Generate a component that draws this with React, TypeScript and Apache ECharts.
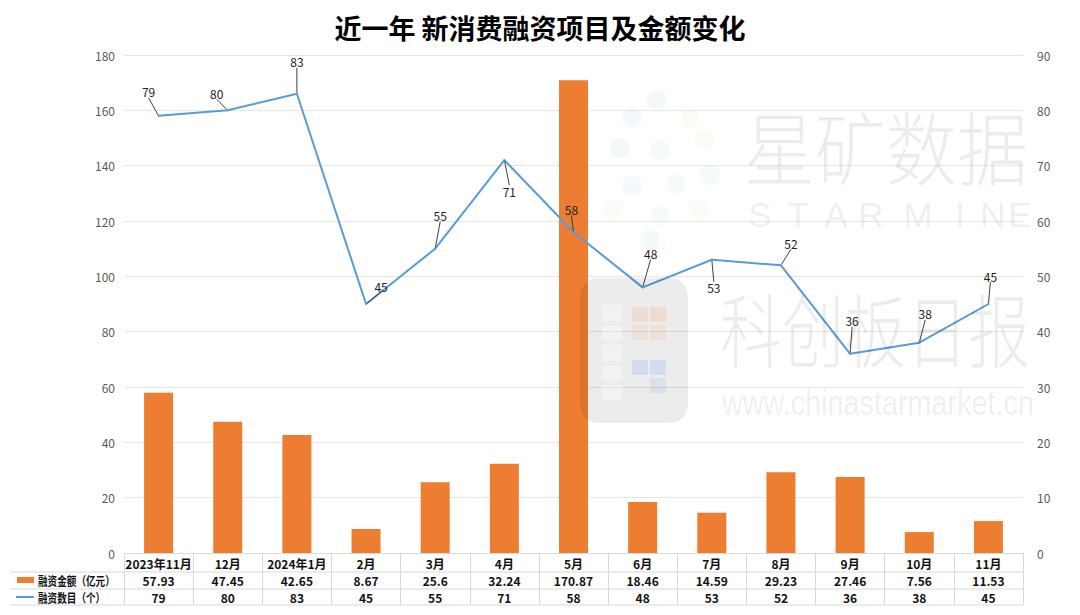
import React, { useEffect, useRef } from "react";
import * as echarts from "echarts";

const categories = ["2023年11月", "12月", "2024年1月", "2月", "3月", "4月", "5月", "6月", "7月", "8月", "9月", "10月", "11月"];
const amounts = [57.93, 47.45, 42.65, 8.67, 25.6, 32.24, 170.87, 18.46, 14.59, 29.23, 27.46, 7.56, 11.53];
const counts = [79, 80, 83, 45, 55, 71, 58, 48, 53, 52, 36, 38, 45];
const amountName = "融资金额（亿元）";
const countName = "融资数目（个）";
const titleText = "近一年 新消费融资项目及金额变化";

// label displacement (layout only)
const labelOffsets: [number, number][] = [
  [-10, -24], [-11, -17], [0, -32], [15, -18], [5, -33], [5, 31], [-2, -23],
  [8, -34], [2, 28], [10, -22], [2, -33], [6, -29], [2, -28],
];

const FONT = "'Noto Sans CJK SC', 'Noto Sans', sans-serif";

export default function App() {
  const ref = useRef<HTMLDivElement>(null);
  useEffect(() => {
    if (!ref.current) return;
    const chart = echarts.init(ref.current, undefined, { renderer: "svg" });
    const wm = "rgba(0,0,0,0.075)";
    const tableLine = "#d9d9d9";
    const dotColors = ["rgba(120,190,220,0.08)", "rgba(240,200,120,0.08)", "rgba(120,200,210,0.08)"];
    const dots: any[] = [];
    const dotPos: [number, number, number][] = [
      [657, 100, 0], [632, 118, 0], [690, 118, 1], [620, 148, 0], [660, 150, 2], [705, 140, 1],
      [632, 185, 0], [676, 183, 2], [710, 175, 2], [612, 210, 1], [660, 215, 2], [700, 210, 1], [650, 240, 0],
    ];
    dotPos.forEach(([x, y, c]) => dots.push({ type: "circle", shape: { cx: x, cy: y, r: 10 }, style: { fill: dotColors[c] }, silent: true, z: 10 }));
    const starLetters: [string, number][] = [["S", 760], ["T", 798], ["A", 836], ["R", 871], ["M", 918], ["I", 960], ["N", 993], ["E", 1020]];
    const star = starLetters.map(([t, x]) => ({
      type: "text", x, y: 214, silent: true, z: 10,
      style: { text: t, font: `35px 'Liberation Sans', sans-serif`, fill: wm, align: "center", verticalAlign: "middle" },
    }));
    const iconRects: any[] = [];
    [305, 325, 345, 365, 385].forEach((y) => iconRects.push({ type: "rect", shape: { x: 602, y, width: 20, height: 16 }, style: { fill: "rgba(255,255,255,0.35)" }, silent: true, z: 11 }));
    [[632, 307, "rgba(240,170,120,0.25)"], [650, 307, "rgba(240,170,120,0.25)"], [632, 325, "rgba(240,170,120,0.18)"], [650, 325, "rgba(240,170,120,0.18)"],
     [632, 360, "rgba(130,180,240,0.25)"], [650, 360, "rgba(130,180,240,0.25)"], [650, 378, "rgba(130,180,240,0.18)"]].forEach(([x, y, c]) =>
      iconRects.push({ type: "rect", shape: { x, y, width: 16, height: 15 }, style: { fill: c }, silent: true, z: 11 }));

    chart.setOption({
      animation: false,
      textStyle: { fontFamily: FONT },
      title: {
        text: titleText,
        left: "center",
        top: 9,
        textStyle: { fontSize: 27, fontWeight: "bold", color: "#000", fontFamily: FONT },
      },
      grid: { left: 124, right: 57, top: 55, bottom: 62 },
      xAxis: {
        type: "category",
        data: categories,
        axisLine: { show: true, lineStyle: { color: tableLine } },
        axisTick: { show: true, length: 52, interval: 0, lineStyle: { color: tableLine } },
        axisLabel: {
          interval: 0,
          margin: 2,
          formatter: (v: string, i: number) => `{c|${v}}\n{c|${amounts[i]}}\n{c|${counts[i]}}`,
          rich: { c: { fontSize: 12, fontWeight: "bold", color: "#111", lineHeight: 17, fontFamily: FONT } },
        },
      },
      yAxis: [
        {
          type: "value", min: 0, max: 180, interval: 20,
          axisLabel: { color: "#595959", fontSize: 12, margin: 9 },
          splitLine: { lineStyle: { color: "#e6e6e6" } },
          axisLine: { show: false }, axisTick: { show: false },
        },
        {
          type: "value", min: 0, max: 90, interval: 10,
          axisLabel: { color: "#595959", fontSize: 12, margin: 14 },
          splitLine: { show: false },
          axisLine: { show: false }, axisTick: { show: false },
        },
      ],
      series: [
        {
          name: amountName,
          type: "bar",
          data: amounts,
          barWidth: 29,
          itemStyle: { color: "#ed7d31" },
          yAxisIndex: 0,
        },
        {
          name: countName,
          type: "line",
          data: counts,
          yAxisIndex: 1,
          symbol: "circle",
          symbolSize: 2,
          showSymbol: true,
          itemStyle: { color: "#5b9bd5" },
          lineStyle: { color: "#5b9bd5", width: 2 },
          label: { show: true, position: "inside", color: "#222", fontSize: 12 },
          labelLayout: (p: any) => ({ dx: labelOffsets[p.dataIndex][0], dy: labelOffsets[p.dataIndex][1] }),
          labelLine: { show: true, lineStyle: { color: "#404040", width: 1 }, length2: 0, minTurnAngle: 0 },
          z: 5,
        },
      ],
      graphic: [
        // table horizontal lines
        { type: "line", shape: { x1: 10, y1: 572, x2: 1023, y2: 572 }, style: { stroke: tableLine, lineWidth: 1 }, silent: true },
        { type: "line", shape: { x1: 10, y1: 589, x2: 1023, y2: 589 }, style: { stroke: tableLine, lineWidth: 1 }, silent: true },
        { type: "line", shape: { x1: 10, y1: 605, x2: 1023, y2: 605 }, style: { stroke: tableLine, lineWidth: 1 }, silent: true },
        // legend keys
        { type: "rect", shape: { x: 17, y: 577, width: 17, height: 6 }, style: { fill: "#ed7d31" }, silent: true },
        { type: "text", x: 38, y: 580.5, scaleX: 0.8, style: { text: amountName, font: `bold 12px ${FONT}`, fill: "#111", verticalAlign: "middle" }, silent: true },
        { type: "line", shape: { x1: 16, y1: 597, x2: 34, y2: 597 }, style: { stroke: "#5b9bd5", lineWidth: 2 }, silent: true },
        { type: "text", x: 38, y: 597, scaleX: 0.8, style: { text: countName, font: `bold 12px ${FONT}`, fill: "#111", verticalAlign: "middle" }, silent: true },
        // watermark
        ...dots,
        { type: "rect", shape: { x: 580, y: 278, width: 108, height: 145, r: 18 }, style: { fill: "rgba(0,0,0,0.075)" }, silent: true, z: 10 },
        ...iconRects,
        { type: "text", x: 744, y: 145, scaleY: 1.12, style: { text: "星矿数据", font: `300 71px ${FONT}`, fill: wm, verticalAlign: "middle" }, silent: true, z: 10 },
        ...star,
        { type: "text", x: 720, y: 326, scaleY: 1.28, style: { text: "科创板日报", font: `300 62px ${FONT}`, fill: wm, verticalAlign: "middle" }, silent: true, z: 10 },
        { type: "text", x: 722, y: 402, scaleX: 0.8, style: { text: "www.chinastarmarket.cn", font: `36px 'Liberation Sans', sans-serif`, fill: wm, verticalAlign: "middle" }, silent: true, z: 10 },
      ],
    });
    return () => chart.dispose();
  }, []);
  return <div ref={ref} style={{ position: "fixed", left: 0, top: 0, width: 1080, height: 615, background: "#fff" }} />;
}
